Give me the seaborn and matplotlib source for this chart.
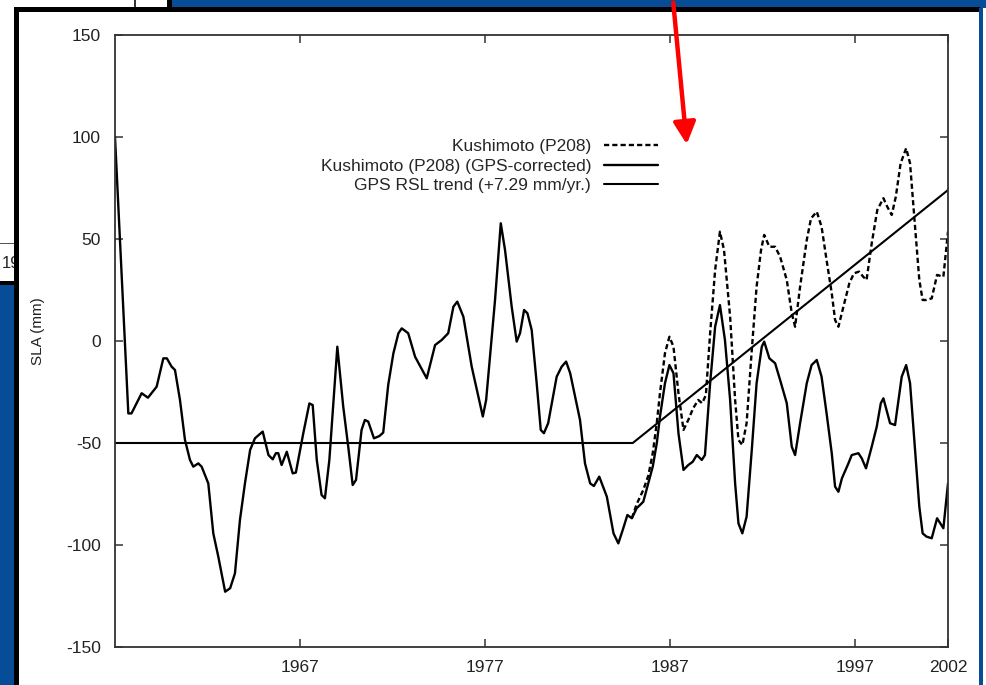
import matplotlib
matplotlib.use("Agg")
import matplotlib.pyplot as plt
import seaborn as sns
from matplotlib.patches import Rectangle, FancyArrowPatch

# GPS-corrected Kushimoto record
years_corr = [1957.00, 1957.27, 1957.72, 1957.89, 1958.44, 1958.78, 1959.25, 1959.61, 1959.80,
              1960.06, 1960.24, 1960.51, 1960.78, 1961.05, 1961.23, 1961.50, 1961.68, 1962.04,
              1962.31, 1962.58, 1962.95, 1963.22, 1963.48, 1963.75, 1964.02, 1964.30, 1964.56,
              1964.98, 1965.29, 1965.52, 1965.69, 1965.82, 1966.00, 1966.28, 1966.60, 1966.77,
              1967.17, 1967.50, 1967.68, 1967.90, 1968.16, 1968.34, 1968.58, 1969.01, 1969.33,
              1969.60, 1969.84, 1970.02, 1970.32, 1970.50, 1970.68, 1970.99, 1971.28, 1971.49,
              1971.76, 1972.04, 1972.31, 1972.49, 1972.84, 1973.21, 1973.84, 1974.29, 1974.65,
              1975.00, 1975.28, 1975.49, 1975.82, 1976.27, 1976.87, 1977.05, 1977.53, 1977.84,
              1978.07, 1978.43, 1978.70, 1978.88, 1979.10, 1979.28, 1979.51, 1979.78, 1980.00,
              1980.17, 1980.40, 1980.86, 1981.13, 1981.37, 1981.59, 1982.12, 1982.39, 1982.67,
              1982.87, 1983.16, 1983.57, 1983.93, 1984.19, 1984.43, 1984.68, 1984.92, 1985.18,
              1985.54, 1985.81, 1986.05, 1986.27, 1986.44, 1986.71, 1986.95, 1987.17, 1987.44,
              1987.71, 1987.97, 1988.21, 1988.43, 1988.70, 1988.87, 1989.15, 1989.42, 1989.68,
              1989.95, 1990.23, 1990.50, 1990.68, 1990.89, 1991.12, 1991.40, 1991.66, 1991.94,
              1992.07, 1992.35, 1992.66, 1992.93, 1993.29, 1993.56, 1993.74, 1994.01, 1994.37,
              1994.63, 1994.91, 1995.17, 1995.44, 1995.72, 1995.90, 1996.08, 1996.27, 1996.62,
              1996.80, 1997.16, 1997.34, 1997.57, 1997.88, 1998.15, 1998.37, 1998.51, 1998.87,
              1999.14, 1999.50, 1999.74, 1999.95, 2000.22, 2000.45, 2000.63, 2000.84, 2001.12,
              2001.41, 2001.75, 2002.00]
sla_corr = [100, 49.5, -35.5, -35.5, -25.6, -27.8, -22.4, -8.5, -8.5,
            -12.6, -14.2, -28.9, -48.5, -58.3, -61.6, -60.0, -61.6, -69.8,
            -94.3, -105.7, -122.9, -121.2, -113.9, -87.7, -69.8, -53.4, -47.7,
            -44.4, -55.9, -58.0, -55.0, -55.0, -60.8, -54.3, -64.9, -64.5,
            -45.3, -30.6, -31.4, -58.3, -75.5, -77.1, -58.3, -2.8, -32.2,
            -51.8, -70.6, -68.1, -43.6, -38.7, -39.5, -47.7, -46.6, -44.9,
            -21.5, -6.0, 3.8, 6.2, 3.8, -7.7, -18.3, -2.0, 0.5,
            3.8, 16.8, 19.3, 11.9, -12.6, -37.0, -28.9, 20.1, 57.7,
            44.6, 16.8, -0.3, 3.8, 15.2, 13.6, 5.4, -20.7, -43.6,
            -45.2, -40.3, -17.5, -12.6, -10.1, -15.8, -38.7, -60.0, -69.8,
            -71.1, -66.5, -76.3, -94.3, -99.2, -92.6, -85.3, -86.9, -82.0,
            -78.8, -69.8, -61.6, -50.0, -37.1, -20.7, -11.8, -15.8, -45.3,
            -63.2, -60.8, -59.2, -55.9, -58.3, -55.9, -20.7, 7.0, 17.6,
            0.5, -28.9, -69.8, -89.4, -94.3, -86.1, -53.4, -20.7, -2.8,
            -0.3, -8.5, -10.9, -19.1, -30.5, -51.8, -55.9, -40.3, -20.7,
            -11.8, -9.3, -17.5, -35.4, -55.0, -71.4, -73.9, -67.3, -60.0,
            -55.9, -55.0, -57.5, -62.4, -51.8, -42.0, -30.5, -28.1, -40.3,
            -41.2, -17.5, -11.8, -20.7, -53.4, -81.2, -94.3, -95.9, -96.7,
            -86.9, -91.8, -69.8]

# uncorrected Kushimoto record, only where it leaves the corrected one
years_raw = [1984.92, 1985.18, 1985.54, 1985.81, 1986.05, 1986.27, 1986.44, 1986.71, 1986.95,
             1987.17, 1987.44, 1987.71, 1987.97, 1988.23, 1988.51, 1988.72, 1988.92, 1989.15,
             1989.42, 1989.68, 1989.90, 1990.23, 1990.50, 1990.68, 1990.89, 1991.12, 1991.40,
             1991.66, 1991.90, 1992.07, 1992.35, 1992.66, 1992.93, 1993.29, 1993.56, 1993.74,
             1994.01, 1994.37, 1994.60, 1994.91, 1995.17, 1995.44, 1995.72, 1995.90, 1996.08,
             1996.35, 1996.67, 1996.92, 1997.20, 1997.42, 1997.60, 1997.88, 1998.18, 1998.51,
             1998.72, 1998.96, 1999.18, 1999.44, 1999.74, 1999.95, 2000.22, 2000.45, 2000.63,
             2000.84, 2001.12, 2001.41, 2001.75, 2002.00]
sla_raw = [-86.9, -80.0, -73.0, -66.0, -55.0, -40.0, -25.6, -6.0, 2.1,
           -2.8, -25.6, -43.6, -38.7, -33.0, -28.9, -30.5, -26.5, 3.8,
           34.8, 53.6, 44.6, 11.9, -28.9, -48.5, -51.0, -40.3, -4.4,
           26.6, 44.6, 52.0, 46.2, 46.2, 41.3, 29.9, 13.6, 7.0,
           26.6, 49.5, 60.1, 63.4, 56.0, 39.7, 23.4, 10.3, 7.0,
           16.8, 28.3, 33.2, 34.0, 31.5, 29.9, 47.9, 64.2, 70.0,
           65.8, 61.8, 70.7, 87.1, 94.5, 87.1, 56.0, 29.9, 20.1,
           20.1, 20.9, 32.4, 31.5, 53.6]

# GPS relative sea level trend
trend_years = [1957.0, 1984.97, 2002.0]
trend_sla = [-50, -50, 74]

xticks = [1967, 1977, 1987, 1997, 2002]
yticks = [-150, -100, -50, 0, 50, 100, 150]
labels = ["Kushimoto (P208)", "Kushimoto (P208) (GPS-corrected)", "GPS RSL trend (+7.29 mm/yr.)"]

sns.set_style("ticks")
plt.rcParams['font.family'] = ['Liberation Sans', 'DejaVu Sans']
plt.rcParams['axes.unicode_minus'] = False

W, H = 987, 685
BLUE = '#064c97'
fig = plt.figure(figsize=(W / 100, H / 100), dpi=100)
fig.patch.set_facecolor('white')


def box(x0, y0, x1, y1, color, z=-5):
    # rectangle in screen pixels (origin top left)
    fig.add_artist(Rectangle((x0 / W, 1 - y1 / H), (x1 - x0) / W, (y1 - y0) / H,
                             transform=fig.transFigure, facecolor=color,
                             edgecolor='none', zorder=z))


# slide behind the chart
box(172, 0, W, 8, BLUE)
box(167, 0, 172, 8, 'black')
box(134, 0, 135.5, 8, '#333333')
box(0, 242.5, 14, 244, '#555555')
box(0, 281, 14, 285, 'black')
box(0, 285, 14, H, BLUE)
fig.text(2 / W, 1 - 264 / H, "19", fontsize=12, va='center', zorder=-4)
box(14, 7, 980, H, 'black', z=-3)
box(19, 12, 980, H, 'white', z=-2)
box(979, 8, 983, H, BLUE, z=-1)

ax = fig.add_axes([115 / W, 1 - 647 / H, (948 - 115) / W, (647 - 35) / H])

dash = (0, (2.2, 1.3))
sns.lineplot(x=years_raw, y=sla_raw, ax=ax, color='black', lw=1.7, linestyle=dash, label=labels[0])
sns.lineplot(x=years_corr, y=sla_corr, ax=ax, color='black', lw=1.7, label=labels[1])
sns.lineplot(x=trend_years, y=trend_sla, ax=ax, color='black', lw=1.5, label=labels[2])

ax.set_xlim(1957, 2002)
ax.set_ylim(-150, 150)
ax.set_xticks(xticks)
ax.set_yticks(yticks)
ax.tick_params(direction='in', length=6, width=1.1, top=True, right=True,
               labelsize=12.5, labelcolor='#222222', color='#333333')
ax.tick_params(axis='y', pad=10)
ax.tick_params(axis='x', pad=9)
for s in ax.spines.values():
    s.set_color('#333333')
    s.set_linewidth(1.3)

ax.set_ylabel("SLA (mm)", fontsize=11, color='#222222')
ax.yaxis.set_label_coords((45 - 115) / 833, (647 - 331) / 612)
ax.set_xlabel("")

ax.legend(loc='upper right', bbox_to_anchor=((658 - 115) / 833, (647 - 139) / 612),
          markerfirst=False, frameon=False, fontsize=12.5, handlelength=3.1,
          handletextpad=0.75, labelspacing=0.25, borderpad=0, borderaxespad=0)

# red pointer from the slide above
fig.add_artist(FancyArrowPatch((673 / W, 1.0), (687 / W, 1 - 147 / H),
                               transform=fig.transFigure,
                               arrowstyle='-|>,head_length=0.55,head_width=0.28',
                               mutation_scale=24, lw=3.2, color='#ff0000', zorder=10))

fig.savefig("out.png", dpi=100)
